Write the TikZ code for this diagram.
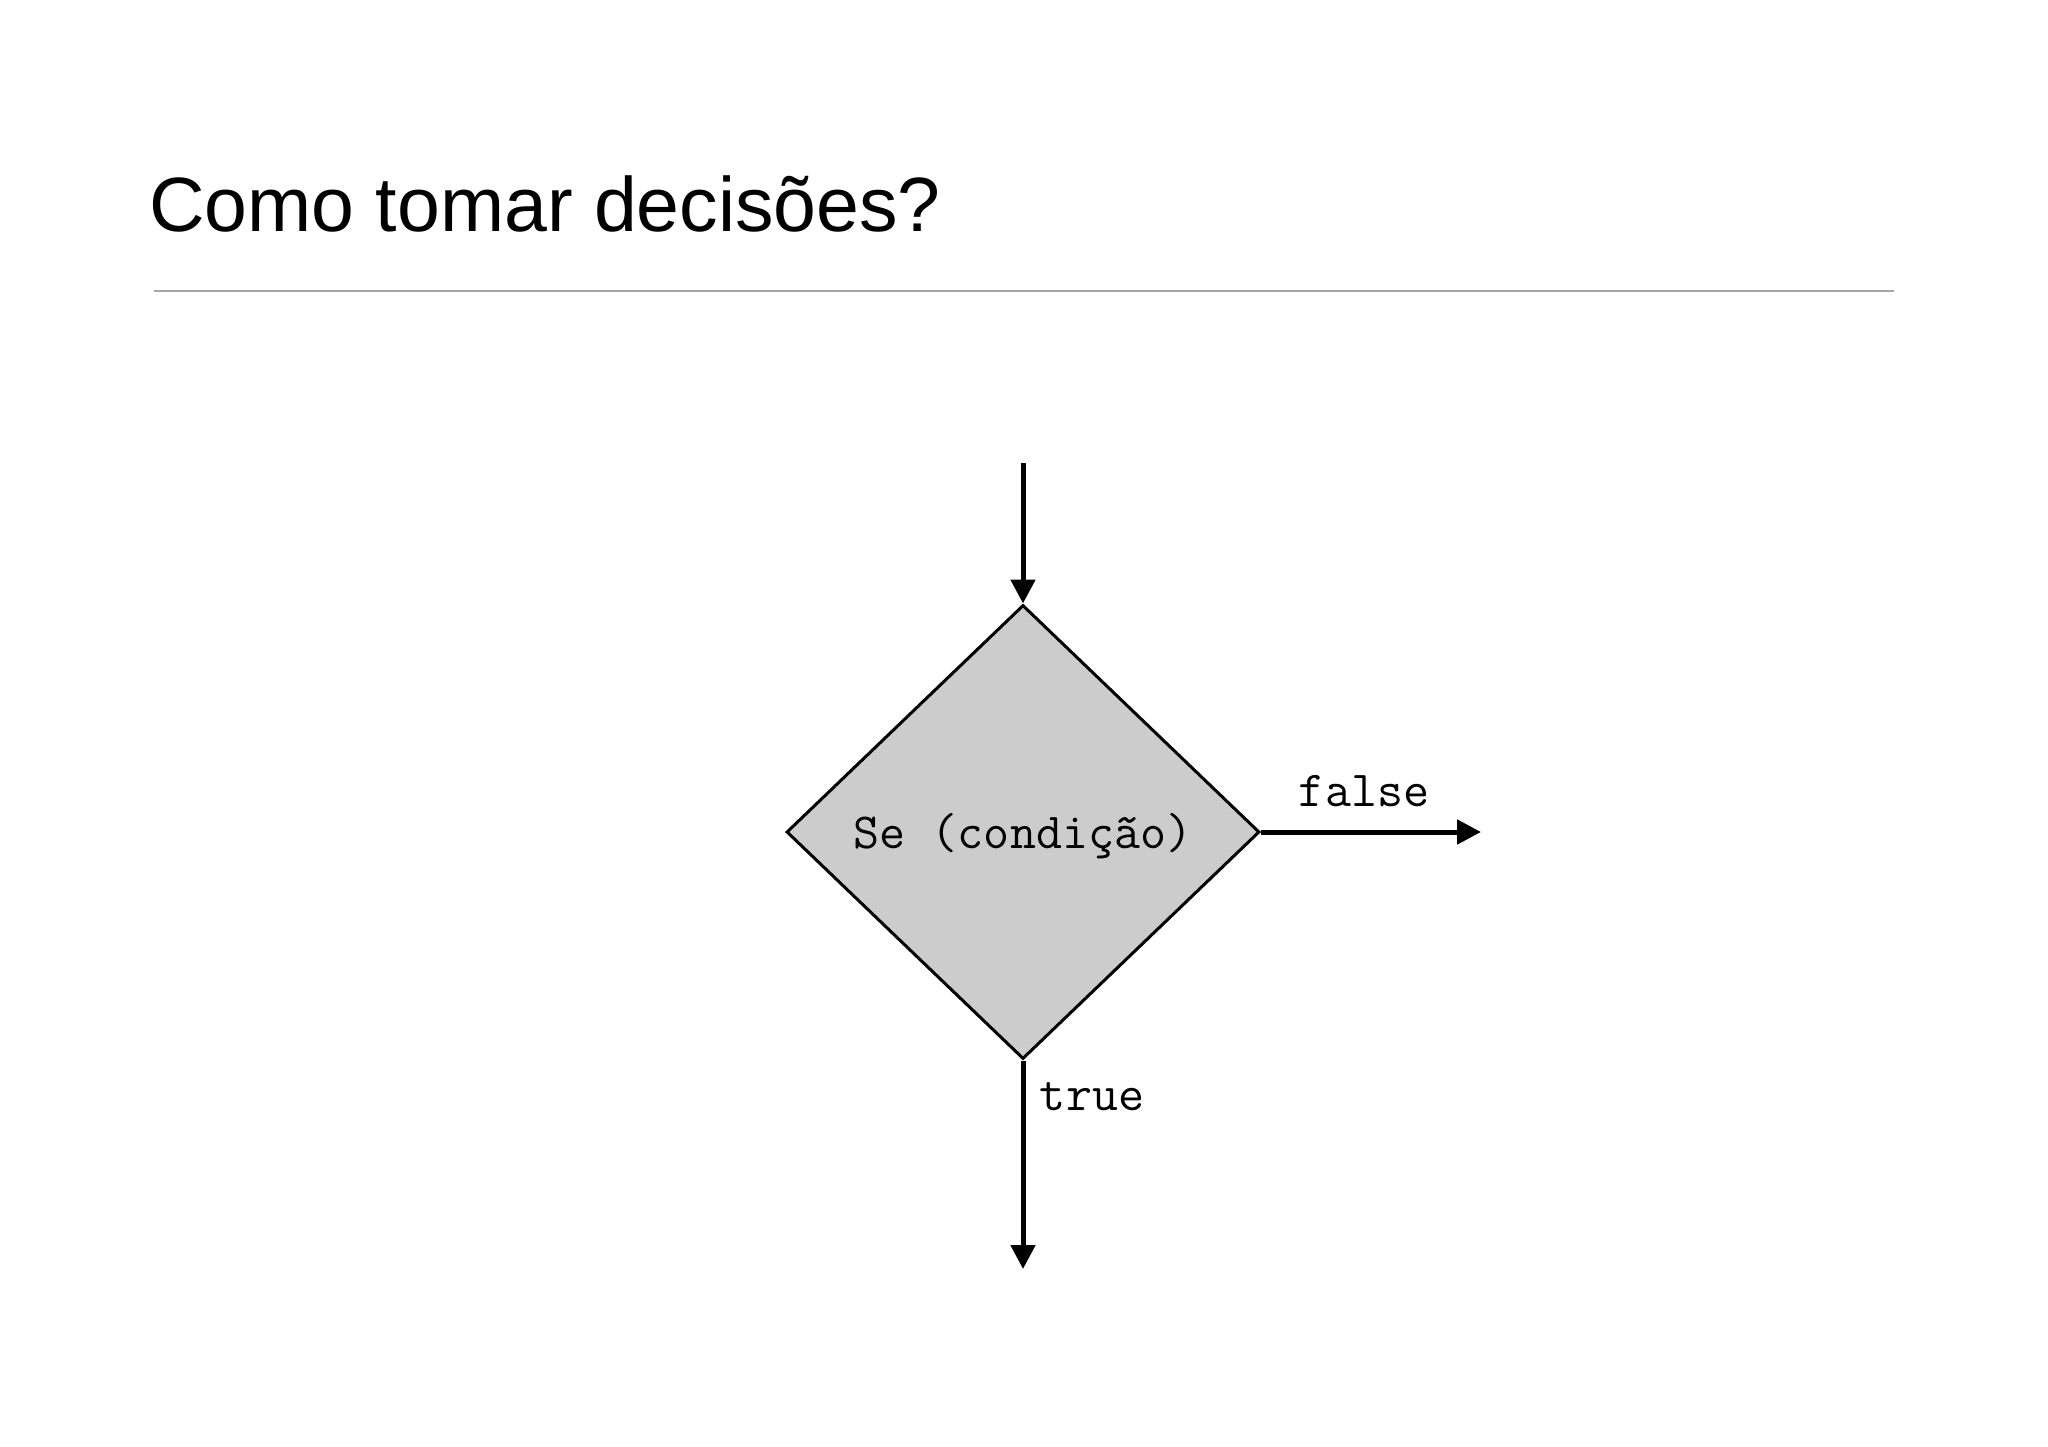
\documentclass[tikz,border=0pt]{standalone}
\usepackage{fontspec}
\setmainfont{Liberation Sans}
\usetikzlibrary{shapes.geometric,arrows.meta}
\definecolor{diamondgray}{RGB}{204,204,204}
\definecolor{rulegray}{RGB}{165,165,165}
\begin{document}
\begin{tikzpicture}[x=1pt,y=-1pt,
  flow/.style={line width=5pt,-{Triangle[length=24pt,width=24pt]}},
  codetext/.style={font=\ttfamily\fontsize{50.5}{56}\selectfont},
  decision/.style={diamond,draw=black,line width=3pt,fill=diamondgray,
    minimum width=473pt,minimum height=454pt,inner sep=0pt,
    text height=32pt,text depth=0pt,codetext},
  lbl/.style={codetext,inner sep=0pt,anchor=base},
  titlestyle/.style={anchor=base west,inner sep=0pt,font=\fontsize{77}{90}\selectfont}]
\useasboundingbox[fill=white] (0,0) rectangle (2048,1447);
\node[titlestyle] (title) at (149,232) {Como tomar decisões?};
\coordinate (ruleL) at (154,291);
\coordinate (ruleR) at (1894,291);
\draw[rulegray,line width=2pt] (ruleL) -- (ruleR);
\node[decision] (cond) at (1023,832) {Se (condição)};
\coordinate (in) at (1023,463);
\coordinate (outF) at (1481,832);
\coordinate (outT) at (1023,1269);
\draw[flow] (in) -- (cond.north);
\draw[flow] (cond.east) -- (outF);
\draw[flow] (cond.south) -- (outT);
\node[lbl] (falselbl) at (1364,806) {false};
\node[lbl] (truelbl) at (1092,1110) {true};
\end{tikzpicture}
\end{document}
